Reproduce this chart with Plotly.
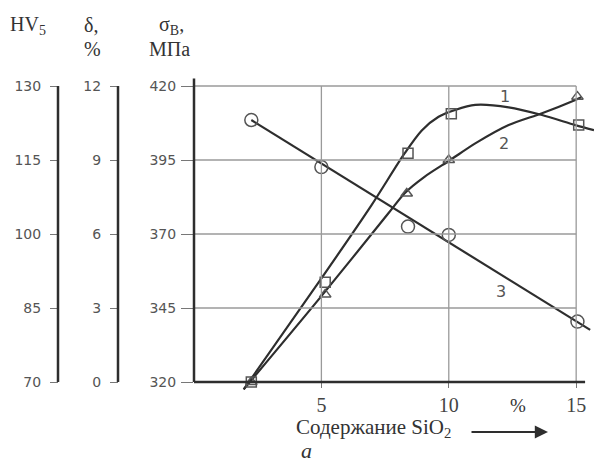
import plotly.graph_objects as go

# ---- data ----
# smooth curves (sigma_B scale, MPa) vs SiO2 content, %
curve1_x = [1.95, 5.0, 6.95, 8.27, 8.94, 9.6, 10.25, 11.04, 12.35, 13.66, 14.97, 15.7]
curve1_y = [317.5, 355.0, 379.5, 397.3, 405.0, 409.6, 411.9, 413.6, 412.8, 410.2, 406.8, 405.1]
curve2_x = [1.95, 5.0, 7.63, 8.27, 9.06, 10.06, 11.04, 12.35, 13.66, 14.97, 15.2]
curve2_y = [317.5, 349.0, 377.0, 383.8, 389.4, 395.0, 400.6, 406.8, 410.8, 415.3, 416.2]
curve3_x = [2.25, 15.55]
curve3_y = [408.5, 337.6]

# measured points
sq_x = [2.25, 5.15, 8.4, 10.1, 15.1]
sq_y = [320.0, 353.7, 397.3, 410.6, 406.8]
tri_x = [2.25, 5.15, 8.35, 10.0, 15.05]
tri_y = [320.0, 349.6, 383.7, 395.0, 416.4]
circ_x = [2.25, 5.0, 8.4, 10.0, 15.05]
circ_y = [408.5, 392.6, 372.5, 369.7, 340.4]

# axis ticks
x_ticks = [5, 10, 15]
sigma_ticks = [320, 345, 370, 395, 420]
delta_ticks = [0, 3, 6, 9, 12]
hv_ticks = [70, 85, 100, 115, 130]
curve_labels = ["1", "2", "3"]

W, H = 594, 462
INK = "#2e2e2e"
GRID = "#9a9a9a"
TICKFONT = dict(family="DejaVu Sans", size=14, color="#555")
SERIF = "Liberation Serif"

S_RANGE = [314, 428]
def to_hv(s):
    return 70 + (s - 320) * 0.6
def to_delta(s):
    return (s - 320) * 0.12

x0_px = 194
fig = go.Figure()

line_style = dict(color=INK, width=2.2)
fig.add_trace(go.Scatter(x=curve1_x, y=curve1_y, mode="lines",
                         line=dict(shape="spline", smoothing=0.8, **line_style)))
fig.add_trace(go.Scatter(x=curve2_x, y=curve2_y, mode="lines",
                         line=dict(shape="spline", smoothing=0.8, **line_style)))
fig.add_trace(go.Scatter(x=curve3_x, y=curve3_y, mode="lines", line=line_style))

mk_line = dict(color="#555", width=1.5)
fig.add_trace(go.Scatter(x=sq_x, y=sq_y, mode="markers", cliponaxis=False,
                         marker=dict(symbol="square-open", size=10, line=mk_line, color="#555")))
fig.add_trace(go.Scatter(x=tri_x, y=tri_y, mode="markers", cliponaxis=False,
                         marker=dict(symbol="triangle-up-open", size=10, line=mk_line, color="#555")))
fig.add_trace(go.Scatter(x=circ_x, y=circ_y, mode="markers", cliponaxis=False,
                         marker=dict(symbol="circle-open", size=13, line=mk_line, color="#555")))
# empty traces so that the extra (delta, HV) axes are drawn
fig.add_trace(go.Scatter(x=[], y=[], yaxis="y2", hoverinfo="skip"))
fig.add_trace(go.Scatter(x=[], y=[], yaxis="y3", hoverinfo="skip"))

# grid box (0..15 x 320..420)
shapes = []
for s in sigma_ticks[1:]:
    shapes.append(dict(type="line", xref="x", yref="y", x0=0, x1=15, y0=s, y1=s,
                       line=dict(color=GRID, width=1.3)))
for xv in x_ticks:
    shapes.append(dict(type="line", xref="x", yref="y", x0=xv, x1=xv, y0=320, y1=420,
                       line=dict(color=GRID, width=1.3)))
# bottom axis line
shapes.append(dict(type="line", xref="x", yref="y", x0=0, x1=15.35, y0=320, y1=320,
                   line=dict(color=INK, width=2.5)))
# vertical axis lines
shapes.append(dict(type="line", xref="paper", yref="y", x0=x0_px / W, x1=x0_px / W,
                   y0=320, y1=422.5, line=dict(color=INK, width=2.5)))
for px in (118, 58):
    shapes.append(dict(type="line", xref="paper", yref="y", x0=px / W, x1=px / W,
                       y0=320, y1=420, line=dict(color=INK, width=2.5)))

ann = []
def text(x, y, t, size=19, xref="paper", yref="paper", xanchor="center", yanchor="middle",
         italic=False, family=SERIF, color="#333"):
    ann.append(dict(x=x, y=y, xref=xref, yref=yref, text=t, showarrow=False,
                    xanchor=xanchor, yanchor=yanchor,
                    font=dict(family=family, size=size, color=color,
                              style="italic" if italic else "normal")))

def px_x(p):
    return p / W
def px_y(p):
    return 1 - p / H

text(px_x(28), px_y(25), "HV<sub>5</sub>", size=20)
text(px_x(91), px_y(25), "δ,", size=20)
text(px_x(92), px_y(49), "%", size=20)
text(px_x(171), px_y(25), "σ<sub>B</sub>,", size=20)
text(px_x(170), px_y(49), "МПа", size=20)

# curve numbers
text(12.22, 416.4, curve_labels[0], size=16, xref="x", yref="y", family="DejaVu Sans", color="#555")
text(12.15, 400.6, curve_labels[1], size=16, xref="x", yref="y", family="DejaVu Sans", color="#555")
text(12.06, 350.5, curve_labels[2], size=16, xref="x", yref="y", family="DejaVu Sans", color="#555")

text(12.7, px_y(405), "%", size=19, xref="x")
text(px_x(373), px_y(428), "Содержание SiO<sub>2</sub>", size=21)
ann.append(dict(x=px_x(548), y=px_y(432), xref="paper", yref="paper",
                ax=-78, ay=0, axref="pixel", ayref="pixel", text="",
                showarrow=True, arrowhead=2, arrowsize=1.2, arrowwidth=2.2, arrowcolor=INK))
text(px_x(306), px_y(450), "a", size=22, italic=True)

dom_y = [(H - 399.76) / H, (H - 62.32) / H]

fig.update_layout(
    width=W, height=H, margin=dict(l=0, r=0, t=0, b=0),
    paper_bgcolor="white", plot_bgcolor="white", showlegend=False,
    shapes=shapes, annotations=ann,
    xaxis=dict(domain=[x0_px / W, 1], range=[0, 15.7], anchor="free", position=(H - 382) / H,
               showgrid=False, zeroline=False, showline=False,
               tickvals=x_ticks, ticks="outside", ticklen=5, tickcolor="#777",
               tickfont=dict(family=SERIF, size=20, color="#444"), ticklabelstandoff=0),
    yaxis=dict(domain=dom_y, range=S_RANGE, anchor="x", showgrid=False, zeroline=False,
               showline=False, tickvals=sigma_ticks, ticks="outside", ticklen=12,
               tickcolor="#777", tickfont=TICKFONT, ticklabelstandoff=2),
    yaxis2=dict(domain=dom_y, range=[to_delta(S_RANGE[0]), to_delta(S_RANGE[1])],
                overlaying="y", anchor="free", position=118 / W, side="left",
                showgrid=False, zeroline=False, showline=False, tickvals=delta_ticks,
                ticks="outside", ticklen=8, tickcolor="#777", tickfont=TICKFONT,
                ticklabelstandoff=6),
    yaxis3=dict(domain=dom_y, range=[to_hv(S_RANGE[0]), to_hv(S_RANGE[1])],
                overlaying="y", anchor="free", position=58 / W, side="left",
                showgrid=False, zeroline=False, showline=False, tickvals=hv_ticks,
                ticks="outside", ticklen=8, tickcolor="#777", tickfont=TICKFONT,
                ticklabelstandoff=6),
)

fig.write_html("out.html")
